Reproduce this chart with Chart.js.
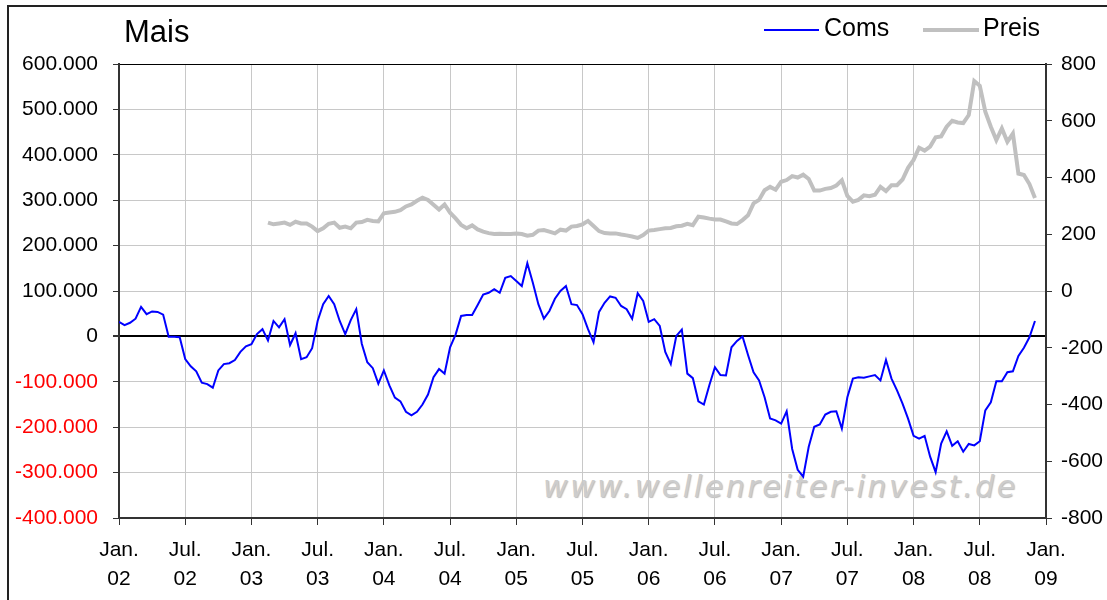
<!DOCTYPE html>
<html>
<head>
<meta charset="utf-8">
<script src="https://cdn.jsdelivr.net/npm/chart.js@4"></script>
<style>
  html, body { margin: 0; padding: 0; background: #fff; }
  #wrap { position: relative; width: 1107px; height: 600px; overflow: hidden; font-family: "Liberation Sans", Arial, sans-serif; }
  #frame { position: absolute; left: 7px; top: 5px; width: 1130px; height: 640px; border: 2px solid #222; box-sizing: border-box; }
  #chart { position: absolute; left: 0; top: 0; z-index: 2; }
  #title { position: absolute; left: 124px; top: 16px; font-size: 31px; line-height: 31px; color: #000; z-index: 3; }
  .leg-text { position: absolute; top: 15px; font-size: 25px; line-height: 25px; color: #000; z-index: 3; }
  .leg-line { position: absolute; z-index: 3; }
  #wm { position: absolute; left: 543px; top: 472px; font: italic 30px "DejaVu Sans", sans-serif; line-height: 30px; letter-spacing: 2.6px; color: #cdcdcd; text-shadow: 1px 1px 1px #bdbdbd; z-index: 1; white-space: nowrap; }
</style>
</head>
<body>
<div id="wrap">
  <div id="frame"></div>
  <div id="wm">www.wellenreiter-invest.de</div>
  <canvas id="chart" width="1107" height="600"></canvas>
  <div id="title">Mais</div>
  <div class="leg-line" style="left:764px;top:29px;width:55px;height:2px;background:#0000ff"></div>
  <div class="leg-text" style="left:824px">Coms</div>
  <div class="leg-line" style="left:923px;top:28px;width:56px;height:4px;background:#c0c0c0"></div>
  <div class="leg-text" style="left:983px">Preis</div>
</div>
<script>
// x axis: months since Jan. 2002, one value every half month
const stepMonths = 0.5;
const comsStartMonth = 0;     // Jan. 2002
const preisStartMonth = 13.5; // mid Feb. 2003

const xTickLabels = [
  ["Jan.", "02"], ["Jul.", "02"], ["Jan.", "03"], ["Jul.", "03"],
  ["Jan.", "04"], ["Jul.", "04"], ["Jan.", "05"], ["Jul.", "05"],
  ["Jan.", "06"], ["Jul.", "06"], ["Jan.", "07"], ["Jul.", "07"],
  ["Jan.", "08"], ["Jul.", "08"], ["Jan.", "09"]
];

// Commercials net position (left axis)
const coms = [
  32000, 25000, 30000, 39000, 65000, 49000, 55000, 54000, 48000, -1000,
  -1000, -2000, -50000, -66000, -77000, -102000, -105000, -113000, -75000, -61000,
  -59000, -52000, -34000, -22000, -17000, 5000, 16000, -9000, 34000, 20000,
  38000, -19000, 7000, -50000, -46000, -26000, 34000, 71000, 89000, 71000,
  34000, 5000, 36000, 60000, -16000, -57000, -70000, -104000, -75000, -108000,
  -135000, -143000, -166000, -174000, -166000, -150000, -128000, -90000, -72000, -82000,
  -24000, 4000, 45000, 47000, 47000, 69000, 92000, 96000, 104000, 96000,
  129000, 133000, 122000, 111000, 161000, 118000, 71000, 39000, 56000, 83000,
  100000, 111000, 71000, 69000, 49000, 16000, -13000, 54000, 74000, 88000,
  85000, 67000, 60000, 39000, 95000, 78000, 32000, 38000, 23000, -34000,
  -61000, 1000, 15000, -82000, -92000, -143000, -150000, -107000, -68000, -85000,
  -86000, -24000, -10000, 0, -41000, -79000, -97000, -134000, -181000, -185000,
  -192000, -165000, -248000, -294000, -309000, -243000, -199000, -194000, -172000, -166000,
  -165000, -203000, -134000, -93000, -90000, -91000, -88000, -85000, -97000, -52000,
  -93000, -119000, -148000, -181000, -219000, -225000, -219000, -265000, -299000, -236000,
  -209000, -241000, -231000, -254000, -237000, -240000, -231000, -163000, -145000, -99000,
  -99000, -79000, -77000, -43000, -25000, -2000, 34000
];

// corn price (right axis)
const preis = [
  241, 235, 238, 241, 233, 244, 238, 238, 227, 211,
  221, 237, 241, 223, 227, 221, 241, 243, 251, 247,
  245, 274, 277, 279, 285, 298, 305, 318, 329, 321,
  304, 287, 305, 276, 256, 233, 221, 231, 217, 209,
  204, 201, 202, 201, 201, 203, 201, 195, 198, 213,
  215, 209, 203, 216, 213, 227, 229, 235, 247, 229,
  211, 204, 203, 203, 199, 196, 192, 187, 197, 213,
  215, 218, 221, 222, 228, 230, 237, 232, 262, 259,
  255, 252, 252, 245, 238, 236, 250, 267, 309, 321,
  355, 367, 357, 385, 391, 405, 400, 410, 395, 354,
  354, 360, 363, 372, 390, 335, 315, 321, 337, 334,
  339, 367, 352, 373, 373, 393, 434, 462, 505, 495,
  509, 542, 545, 579, 600, 594, 592, 620, 740, 723,
  632, 579, 532, 573, 526, 555, 414, 409, 377, 328
];

function toPoints(values, start) {
  return values.map((v, i) => ({ x: start + i * stepMonths, y: v }));
}

function fmtThousands(v) {
  if (v === 0) return "0";
  return (v / 1000).toFixed(0) + ".000";
}

const fontFamily = '"Liberation Sans", Arial, sans-serif';
const gridGrey = "#c8c8c8";
const axisDark = "#333";

new Chart(document.getElementById("chart").getContext("2d"), {
  type: "line",
  data: {
    datasets: [
      {
        label: "Coms",
        data: toPoints(coms, comsStartMonth),
        borderColor: "#0000ff",
        borderWidth: 2,
        pointRadius: 0,
        tension: 0,
        yAxisID: "y"
      },
      {
        label: "Preis",
        data: toPoints(preis, preisStartMonth),
        borderColor: "#c0c0c0",
        borderWidth: 4,
        pointRadius: 0,
        tension: 0,
        yAxisID: "y2"
      }
    ]
  },
  options: {
    responsive: false,
    animation: false,
    layout: { padding: { top: 64, left: 0, right: 0, bottom: 0 } },
    plugins: { legend: { display: false }, tooltip: { enabled: false } },
    scales: {
      x: {
        type: "linear",
        position: "bottom",
        min: 0,
        max: 84,
        afterFit: (s) => { s.height = 82; },
        ticks: {
          stepSize: 6,
          autoSkip: false,
          maxRotation: 0,
          padding: 11,
          color: "#000",
          font: { family: fontFamily, size: 21, lineHeight: 1.38 },
          callback: (v) => xTickLabels[Math.round(v / 6)]
        },
        grid: { color: gridGrey, tickColor: axisDark, tickLength: 7 },
        border: { color: axisDark, width: 2 }
      },
      y: {
        position: "left",
        min: -400000,
        max: 600000,
        afterFit: (s) => { s.width = 119; },
        ticks: {
          stepSize: 100000,
          padding: 15,
          color: (ctx) => (ctx.tick.value < 0 ? "#ff0000" : "#000"),
          font: { family: fontFamily, size: 21 },
          callback: fmtThousands
        },
        grid: {
          color: (ctx) => (ctx.tick && (ctx.tick.value === 0 || ctx.tick.value === 600000) ? "#000" : gridGrey),
          lineWidth: (ctx) => (ctx.tick && ctx.tick.value === 0 ? 2 : 1),
          tickColor: axisDark,
          tickLength: 6
        },
        border: { color: axisDark, width: 2 }
      },
      y2: {
        position: "right",
        min: -800,
        max: 800,
        afterFit: (s) => { s.width = 61; },
        ticks: {
          stepSize: 200,
          padding: 9,
          color: "#000",
          font: { family: fontFamily, size: 21 }
        },
        grid: { drawOnChartArea: false, tickColor: axisDark, tickLength: 6 },
        border: { color: axisDark, width: 2 }
      }
    }
  }
});
</script>
</body>
</html>
